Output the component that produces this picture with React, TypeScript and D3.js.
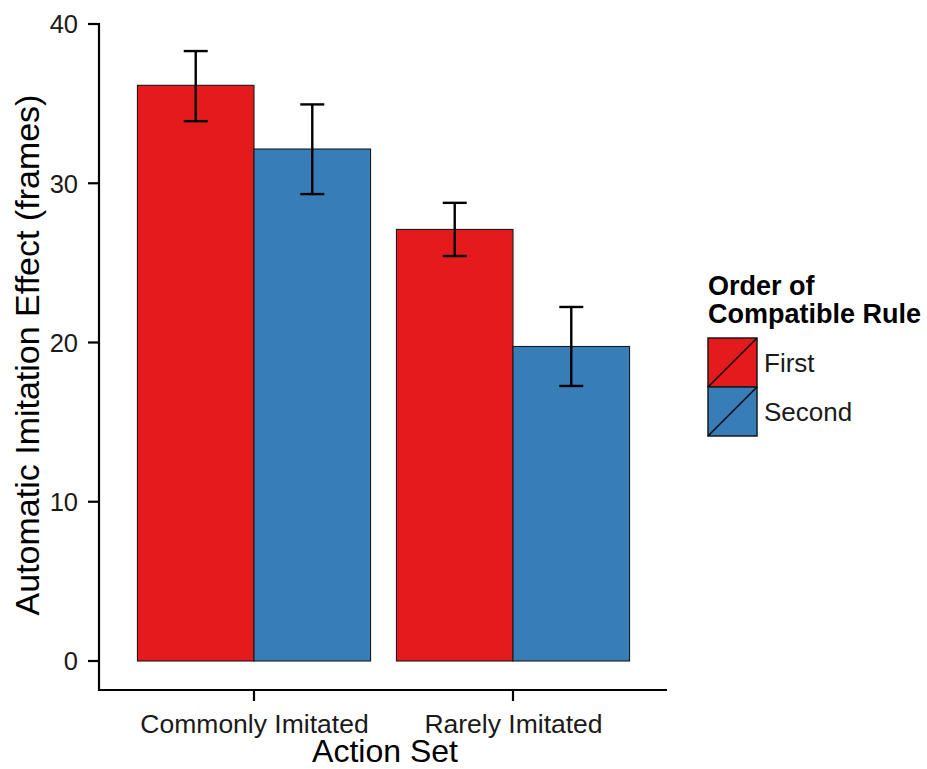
import React from "react";
import * as d3 from "d3";

const categories = ["Commonly Imitated", "Rarely Imitated"];
const seriesNames = ["First", "Second"];
const seriesColors = ["#E41A1C", "#377EB8"];
const firstValues = [36.15, 27.1];
const secondValues = [32.15, 19.75];
const firstLower = [33.9, 25.43];
const firstUpper = [38.3, 28.77];
const secondLower = [29.32, 17.27];
const secondUpper = [34.95, 22.23];
const yTicks = [0, 10, 20, 30, 40];

const W = 927;
const H = 769;
const FONT = "'Liberation Sans', Arial, Helvetica, sans-serif";

export default function App() {
  const y = d3.scaleLinear().domain([0, 40]).range([661, 24]);
  const x = d3.scalePoint<string>().domain(categories).range([98.6, 668.4]).padding(0.6);
  const step = x.step();
  const groupW = step * 0.9;
  const inner = d3.scaleBand<string>().domain(seriesNames).range([-groupW / 2, groupW / 2]);
  const values = [firstValues, secondValues];
  const lows = [firstLower, secondLower];
  const highs = [firstUpper, secondUpper];
  const axisY = 690;
  const axisX = 99;
  const capW = 24;

  return (
    <svg width={W} height={H} style={{ position: "absolute", left: 0, top: 0, background: "#fff" }} fontFamily={FONT}>
      {/* bars */}
      {categories.map((c, ci) =>
        seriesNames.map((s, si) => {
          const bx = (x(c) as number) + (inner(s) as number);
          const v = values[si][ci];
          return (
            <rect key={c + s} x={bx} y={y(v)} width={inner.bandwidth()} height={y(0) - y(v)}
              fill={seriesColors[si]} stroke="#1a1a1a" strokeWidth={1.1} />
          );
        })
      )}
      {/* error bars */}
      {categories.map((c, ci) =>
        seriesNames.map((s, si) => {
          const cx = (x(c) as number) + (inner(s) as number) + inner.bandwidth() / 2;
          const lo = y(lows[si][ci]);
          const hi = y(highs[si][ci]);
          return (
            <g key={"e" + c + s} stroke="#000" strokeWidth={2.4}>
              <line x1={cx} x2={cx} y1={hi} y2={lo} />
              <line x1={cx - capW / 2} x2={cx + capW / 2} y1={hi} y2={hi} />
              <line x1={cx - capW / 2} x2={cx + capW / 2} y1={lo} y2={lo} />
            </g>
          );
        })
      )}
      {/* y axis */}
      <line x1={axisX} x2={axisX} y1={y(40) - 1} y2={axisY + 1} stroke="#000" strokeWidth={2.2} />
      {yTicks.map((t) => (
        <g key={t}>
          <line x1={axisX - 11} x2={axisX} y1={y(t)} y2={y(t)} stroke="#000" strokeWidth={2.2} />
          <text x={78} y={y(t)} dy="0.37em" textAnchor="end" fontSize={25.5} fill="#1a1a1a">{t}</text>
        </g>
      ))}
      {/* x axis */}
      <line x1={axisX - 1} x2={667} y1={axisY} y2={axisY} stroke="#000" strokeWidth={2.2} />
      {categories.map((c) => (
        <g key={c}>
          <line x1={x(c)} x2={x(c)} y1={axisY} y2={axisY + 11} stroke="#000" strokeWidth={2.2} />
          <text x={(x(c) as number) + 0.5} y={733} textAnchor="middle" fontSize={26.5} fill="#1a1a1a">{c}</text>
        </g>
      ))}
      <text x={385} y={762} textAnchor="middle" fontSize={32} fill="#000">Action Set</text>
      <text transform={`translate(39,355) rotate(-90)`} textAnchor="middle" fontSize={34} fill="#000">
        Automatic Imitation Effect (frames)
      </text>
      {/* legend */}
      <text x={708} y={295} fontSize={27} fontWeight="bold" fill="#000">Order of</text>
      <text x={708} y={323} fontSize={27} fontWeight="bold" fill="#000">Compatible Rule</text>
      {seriesNames.map((s, i) => {
        const ky = 338 + i * 49;
        return (
          <g key={s}>
            <rect x={708} y={ky} width={49} height={49} fill={seriesColors[i]} stroke="#1a1a1a" strokeWidth={1.5} />
            <line x1={708} y1={ky + 49} x2={757} y2={ky} stroke="#000" strokeWidth={1.5} />
            <text x={764} y={ky + 34} fontSize={26} fill="#1a1a1a">{s}</text>
          </g>
        );
      })}
    </svg>
  );
}
